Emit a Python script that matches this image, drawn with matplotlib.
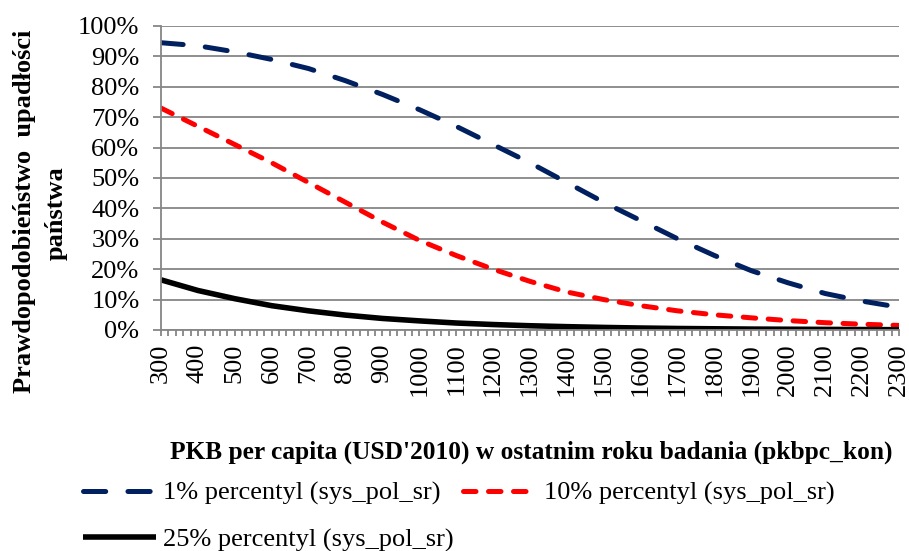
import matplotlib
matplotlib.use("Agg")
import matplotlib.pyplot as plt
from matplotlib.ticker import MultipleLocator, PercentFormatter

plt.rcParams['font.family'] = ['Liberation Serif', 'DejaVu Serif']
plt.rcParams['lines.scale_dashes'] = False

# PKB per capita (USD'2010)
pkb = [300, 400, 500, 600, 700, 800, 900, 1000, 1100, 1200, 1300,
       1400, 1500, 1600, 1700, 1800, 1900, 2000, 2100, 2200, 2300]

# prawdopodobienstwo upadlosci [%]
p1 = [94.5, 93.5, 91.5, 89.0, 86.0, 82.0, 77.5, 72.5, 67.0, 61.0, 55.0,
      48.5, 42.0, 36.0, 30.0, 24.5, 19.5, 15.5, 12.0, 9.5, 7.5]
p10 = [73.0, 67.0, 61.0, 55.0, 48.5, 42.0, 35.5, 29.5, 24.5, 20.0, 16.0,
       12.5, 10.0, 8.0, 6.3, 5.0, 4.0, 3.1, 2.4, 1.9, 1.5]
p25 = [16.5, 13.0, 10.3, 8.0, 6.3, 4.9, 3.8, 3.0, 2.3, 1.8, 1.4,
       1.1, 0.85, 0.65, 0.5, 0.4, 0.3, 0.25, 0.2, 0.15, 0.1]

labels = ["1% percentyl (sys_pol_sr)", "10% percentyl (sys_pol_sr)",
          "25% percentyl (sys_pol_sr)"]

grid_col = "#868686"

fig = plt.figure(figsize=(9.09, 5.51), dpi=100)
ax = fig.add_axes([161 / 909, 1 - 330 / 551, 738 / 909, 304 / 551])

l1, = ax.plot(pkb, p1, color="#002060", lw=3.6, dashes=(16, 16),
              dash_capstyle="round", label=labels[0])
l2, = ax.plot(pkb, p10, color="#ff0000", lw=3.6, dashes=(9, 9),
              dash_capstyle="round", label=labels[1])
l3, = ax.plot(pkb, p25, color="black", lw=4, solid_capstyle="butt",
              label=labels[2])

ax.set_xlim(300, 2300)
ax.set_ylim(0, 100)
ax.yaxis.set_major_locator(MultipleLocator(10))
ax.yaxis.set_major_formatter(PercentFormatter(decimals=0))
ax.xaxis.set_major_locator(MultipleLocator(100))
ax.xaxis.set_minor_locator(MultipleLocator(20))
ax.grid(axis="y", color=grid_col, lw=1.3)
ax.set_axisbelow(True)

for s in ["top", "right"]:
    ax.spines[s].set_visible(False)
for s in ["left", "bottom"]:
    ax.spines[s].set_color(grid_col)
    ax.spines[s].set_linewidth(1.3)

ax.tick_params(axis="x", which="both", direction="out", length=4.5, width=1.3,
               color=grid_col, labelsize=19, labelrotation=90, pad=5)
ax.tick_params(axis="y", direction="out", length=5.5, width=1.3,
               color=grid_col, labelsize=19, pad=10)

fig.text(25 / 909, 1 - 211 / 551, "Prawdopodobieństwo  upadłości",
         rotation=90, ha="center", va="center", fontsize=19, fontweight="bold")
fig.text(56 / 909, 1 - 213 / 551, "państwa",
         rotation=90, ha="center", va="center", fontsize=19, fontweight="bold")
fig.text(531 / 909, 1 - 452 / 551,
         "PKB per capita (USD'2010) w ostatnim roku badania (pkbpc_kon)",
         ha="center", va="center", fontsize=18.3, fontweight="bold")

fig.legend([l1, l3, l2], [labels[0], labels[2], labels[1]], ncol=2,
           loc="center left", bbox_to_anchor=(83 / 909, 1 - 516.5 / 551),
           frameon=False, borderpad=0, borderaxespad=0, fontsize=19,
           handlelength=2.75, handletextpad=0.3, columnspacing=0.35,
           labelspacing=0.85)

fig.savefig("out.png", dpi=100)
